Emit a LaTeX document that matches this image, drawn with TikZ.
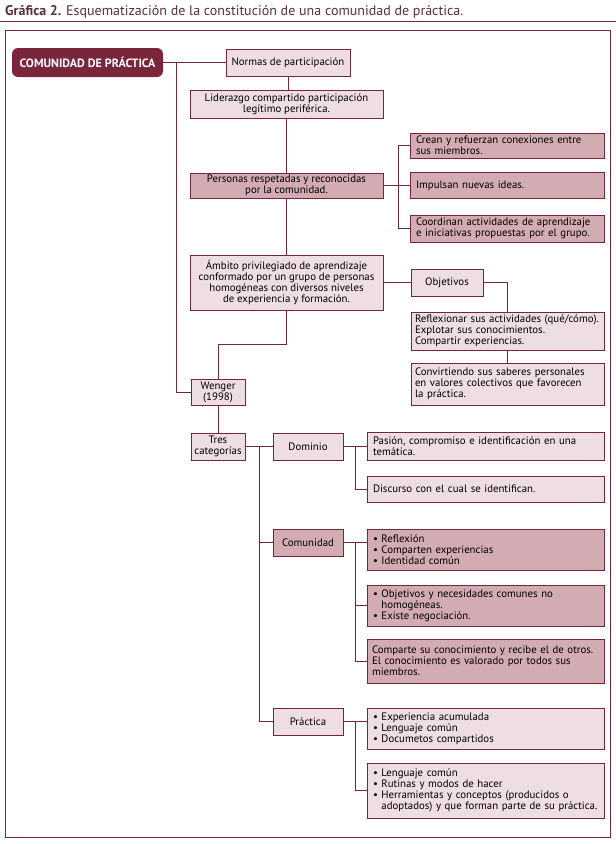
\documentclass[tikz,border=0pt]{standalone}
\usepackage{fontspec}
\setmainfont{PT Sans}
\usetikzlibrary{calc}

\definecolor{vino}{RGB}{110,40,57}
\definecolor{vinofill}{RGB}{122,38,58}
\definecolor{rosaclaro}{RGB}{238,222,226}
\definecolor{rosaoscuro}{RGB}{211,171,178}
\definecolor{titulo}{RGB}{88,48,58}

\tikzset{
  caja/.style={draw=vino, line width=0.9pt, inner xsep=6pt, inner ysep=0pt,
    font=\fontsize{10.8}{11}\selectfont, text=black},
  clara/.style={caja, fill=rosaclaro},
  oscura/.style={caja, fill=rosaoscuro},
  centro/.style={align=center, inner xsep=2pt},
  izq/.style={align=left, text width=#1},
  raiz/.style={fill=vinofill, rounded corners=6pt, inner sep=0pt, text=white,
    font=\fontsize{12}{13}\selectfont\bfseries},
  enlace/.style={draw=vino, line width=0.9pt},
}

\begin{document}
\begin{tikzpicture}[x=1pt, y=-1pt]
    \useasboundingbox (0,0) rectangle (616,844);

    % --- Key Coordinates ---
    \coordinate (tronco) at (176,0);
    \coordinate (ramaP) at (398,0);
    \coordinate (ramaT) at (259,0);
    \coordinate (ramaD) at (355,0);
    \coordinate (codo) at (286.5,344);

    % --- 1. Title and frame ---
    \node[anchor=base west, inner sep=0pt, text=titulo, font=\fontsize{14}{16}\selectfont] (tit) at (5,15)
        {\textbf{Gráfica 2.} Esquematización de la constitución de una comunidad de práctica.};
    \draw[vino, line width=1pt] (0,21) -- (616,21);
    \draw[vino, line width=1pt] (5,30) rectangle (610,837);

    % --- 2. Upper branch ---
    \node[raiz, minimum width=151pt, minimum height=29pt] (cdp) at (87.5,62.5) {COMUNIDAD DE PRÁCTICA};
    \node[clara, centro, minimum width=124pt, minimum height=27pt] (normas) at (288,62.5) {Normas de participación};
    \node[clara, centro, minimum width=193pt, minimum height=28pt] (liderazgo) at (286.5,104)
        {Liderazgo compartido participación\\legítimo periférica.};
    \node[oscura, centro, minimum width=193pt, minimum height=25pt] (personas) at (286.5,185.5)
        {Personas respetadas y reconocidas\\por la comunidad.};
    \node[oscura, izq=182pt, minimum height=25pt] (crean) at (507,145.5)
        {Crean y refuerzan conexiones entre\\sus miembros.};
    \node[oscura, izq=182pt, minimum height=26pt] (impulsan) at (507,185.5) {Impulsan nuevas ideas.};
    \node[oscura, izq=182pt, minimum height=27pt] (coordinan) at (507,228.5)
        {Coordinan actividades de aprendizaje\\e iniciativas propuestas por el grupo.};

    % --- 3. Middle branch ---
    \node[clara, centro, minimum width=193pt, minimum height=55pt] (ambito) at (286.5,282.5)
        {Ámbito privilegiado de aprendizaje\\conformado por un grupo de personas\\homogéneas con diversos niveles\\de experiencia y formación.};
    \node[clara, centro, minimum width=72pt, minimum height=27pt] (objetivos) at (447,282.5) {Objetivos};
    \node[clara, izq=185pt, inner xsep=4pt, minimum height=38pt] (reflexionar) at (507.5,331)
        {Reflexionar sus actividades (qué/cómo).\\Explotar sus conocimientos.\\Compartir experiencias.};
    \node[clara, izq=185pt, inner xsep=4pt, minimum height=42pt] (convirtiendo) at (507.5,384)
        {Convirtiendo sus saberes personales\\en valores colectivos que favorecen\\la práctica.};
    \node[clara, centro, minimum width=54pt, minimum height=26pt] (wenger) at (218,392) {Wenger\\(1998)};
    \node[clara, centro, minimum width=54pt, minimum height=27pt] (tres) at (218,446.5) {Tres\\categorías};

    % --- 4. Three categories ---
    \node[clara, centro, minimum width=70pt, minimum height=27pt] (dominio) at (308,446.5) {Dominio};
    \node[clara, izq=225pt, minimum height=28pt] (pasion) at (485.5,446.5)
        {Pasión, compromiso e identificación en una\\temática.};
    \node[clara, izq=225pt, minimum height=26pt] (discurso) at (485.5,489) {Discurso con el cual se identifican.};

    \node[oscura, centro, minimum width=70pt, minimum height=27pt] (comunidad) at (308,542.5) {Comunidad};
    \node[oscura, izq=225pt, minimum height=41pt] (refl) at (485.5,549.5)
        {• Reflexión\\• Comparten experiencias\\• Identidad común};
    \node[oscura, izq=225pt, minimum height=41pt] (objnec) at (485.5,605.5)
        {• Objetivos y necesidades comunes no\\\hphantom{• }homogéneas.\\• Existe negociación.};
    \node[oscura, izq=227pt, inner xsep=5pt, minimum height=44pt] (comparte) at (485.5,661)
        {Comparte su conocimiento y recibe el de otros.\\El conocimiento es valorado por todos sus\\miembros.};

    \node[clara, centro, minimum width=70pt, minimum height=27pt] (practica) at (308,721.5) {Práctica};
    \node[clara, izq=225pt, minimum height=41pt] (exper) at (485.5,728.5)
        {• Experiencia acumulada\\• Lenguaje común\\• Documetos compartidos};
    \node[clara, izq=225pt, minimum height=55pt] (lengua) at (485.5,790.5)
        {• Lenguaje común\\• Rutinas y modos de hacer\\• Herramientas y conceptos (producidos o\\\hphantom{• }adoptados) y que forman parte de su práctica.};

    % --- 5. Connectors ---
    \draw[enlace] (cdp.east) -- (normas.west);
    \draw[enlace] (cdp.east -| tronco) |- (wenger.west);
    \draw[enlace] (normas.south) -- (normas.south |- liderazgo.north);
    \draw[enlace] (liderazgo.south) -- (personas.north);
    \draw[enlace] (personas.south) -- (ambito.north);
    \draw[enlace] (personas.east) -- (impulsan.west);
    \draw[enlace] (crean.west) -| (ramaP |- coordinan.west) -- (coordinan.west);
    \draw[enlace] (ambito.east) -- (objetivos.west);
    \draw[enlace] (objetivos.east) -| (reflexionar.north);
    \draw[enlace] (reflexionar.south) -- (convirtiendo.north);
    \draw[enlace] (ambito.south) -- (codo) -| (wenger.north);
    \draw[enlace] (wenger.south) -- (tres.north);
    \draw[enlace] (tres.east) -- (dominio.west);
    \draw[enlace] (tres.east -| ramaT) |- (practica.west);
    \draw[enlace] (ramaT |- comunidad.west) -- (comunidad.west);
    \draw[enlace] (dominio.east) -- (pasion.west);
    \draw[enlace] (dominio.east -| ramaD) |- (discurso.west);
    \draw[enlace] (comunidad.east) -- (comunidad.east -| refl.west);
    \draw[enlace] (comunidad.east -| ramaD) |- (comparte.west);
    \draw[enlace] (ramaD |- objnec.west) -- (objnec.west);
    \draw[enlace] (practica.east) -- (practica.east -| exper.west);
    \draw[enlace] (practica.east -| ramaD) |- (lengua.west);

\end{tikzpicture}
\end{document}
